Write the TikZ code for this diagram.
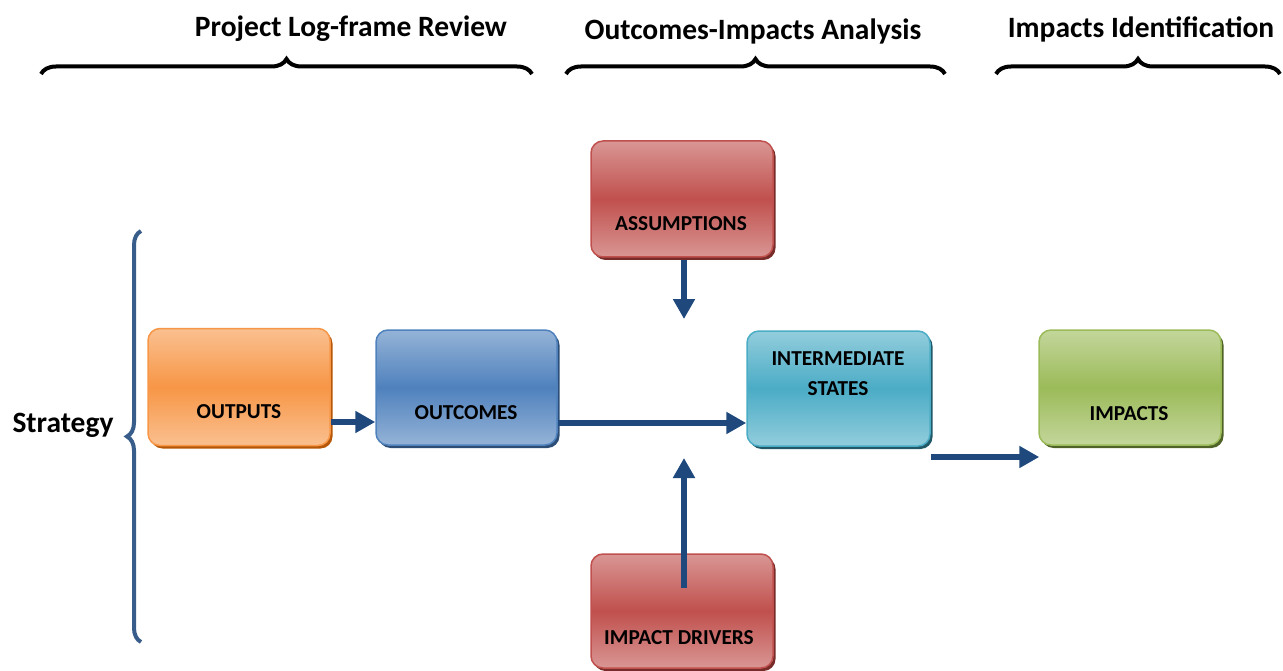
\documentclass[tikz,border=0pt]{standalone}
\usepackage{fontspec}
\setmainfont{Carlito}
\usetikzlibrary{arrows.meta,shadows,decorations.pathreplacing,calc}
\definecolor{arrowblue}{HTML}{1F497D}
\definecolor{bracecol}{HTML}{385D8A}
\definecolor{orA}{HTML}{FAC090}\definecolor{orB}{HTML}{F79646}\definecolor{orC}{HTML}{B65708}
\definecolor{blA}{HTML}{95B3D7}\definecolor{blB}{HTML}{4F81BD}\definecolor{blC}{HTML}{2C4D75}
\definecolor{rdA}{HTML}{D99694}\definecolor{rdB}{HTML}{C0504D}\definecolor{rdC}{HTML}{772C2A}
\definecolor{cyA}{HTML}{92CDDC}\definecolor{cyB}{HTML}{4BACC6}\definecolor{cyC}{HTML}{215968}
\definecolor{grA}{HTML}{C3D69B}\definecolor{grB}{HTML}{9BBB59}\definecolor{grC}{HTML}{4F6228}
\tikzset{
  boxbase/.style n args={3}{rectangle, rounded corners=12pt, line width=1.5pt, draw=#2,
    top color=#1, bottom color=#1, middle color=#2, minimum width=182pt, minimum height=116pt,
    inner sep=0pt,
    general shadow={shadow xshift=2.5pt, shadow yshift=-3pt, fill=#3}},
  boxtext/.style={font=\bfseries\fontsize{21.3}{30}\selectfont, align=center, inner sep=0pt},
  headtext/.style={font=\bfseries\fontsize{29.5}{34}\selectfont, inner sep=0pt},
  flow/.style={draw=arrowblue, line width=5.5pt, -{Triangle[length=20pt,width=21pt]}},
  topbrace/.style={draw=black, line width=4pt, decorate, decoration={brace, amplitude=15pt}},
}
\begin{document}
\begin{tikzpicture}[x=1pt,y=-1pt]
\useasboundingbox (0,0) rectangle (1283,671);
% headers and braces
\node[headtext] (h1) at (351,29) {Project Log-frame Review};
\node[headtext] (h2) at (753,31) {Outcomes-Impacts Analysis};
\node[headtext] (h3) at (1141,29) {Impacts Identification};
\coordinate (b1l) at (41,74); \coordinate (b1r) at (532,74);
\coordinate (b2l) at (566,74); \coordinate (b2r) at (945,74);
\coordinate (b3l) at (996,74); \coordinate (b3r) at (1280,74);
\draw[topbrace] (b1l) -- (b1r);
\draw[topbrace] (b2l) -- (b2r);
\draw[topbrace] (b3l) -- (b3r);
% left brace
\coordinate (lbb) at (141,642); \coordinate (lbt) at (141,231);
\draw[draw=bracecol, line width=4pt, decorate, decoration={brace, amplitude=14pt}] (lbb) -- (lbt);
\node[headtext] (strat) at (63,425) {Strategy};
% boxes
\node[boxbase={orA}{orB}{orC}, minimum height=117pt] (outp) at (239,387) {};
\node[boxbase={blA}{blB}{blC}, minimum width=181pt, minimum height=115pt] (outc) at (466.5,387.5) {};
\node[boxbase={rdA}{rdB}{rdC}] (assu) at (682,199) {};
\node[boxbase={cyA}{cyB}{cyC}, minimum width=183pt, minimum height=115pt] (inter) at (838.5,388.5) {};
\node[boxbase={grA}{grB}{grC}, minimum height=115pt] (imp) at (1130,387.5) {};
\node[boxbase={rdA}{rdB}{rdC}, minimum height=114pt] (driv) at (682,611) {};
% box texts
\node[boxtext] (toutp) at (239,412) {OUTPUTS};
\node[boxtext] (toutc) at (466,413) {OUTCOMES};
\node[boxtext] (tassu) at (681,224) {ASSUMPTIONS};
\node[boxtext] (tinter) at (838,374) {INTERMEDIATE\\STATES};
\node[boxtext] (timp) at (1129,414) {IMPACTS};
\node[boxtext] (tdriv) at (679,638) {IMPACT DRIVERS};
% arrows
\coordinate (downstart) at (684,260);
\coordinate (downtip) at (684,319);
\coordinate (uptip) at (684,458);
\coordinate (upstart) at (684,588);
\draw[flow] ($(outp.east)+(0,35)$) -- ($(outc.west)+(0,34.5)$);
\draw[flow] ($(outc.east)+(0,35.5)$) -- ($(inter.west)+(0,34.5)$);
\draw[flow] (downstart) -- (downtip);
\draw[flow] (upstart) -- (uptip);
\draw[flow] ($(inter.east)+(0,68.5)$) -- ($(imp.west)+(1,69.5)$);
\end{tikzpicture}
\end{document}
